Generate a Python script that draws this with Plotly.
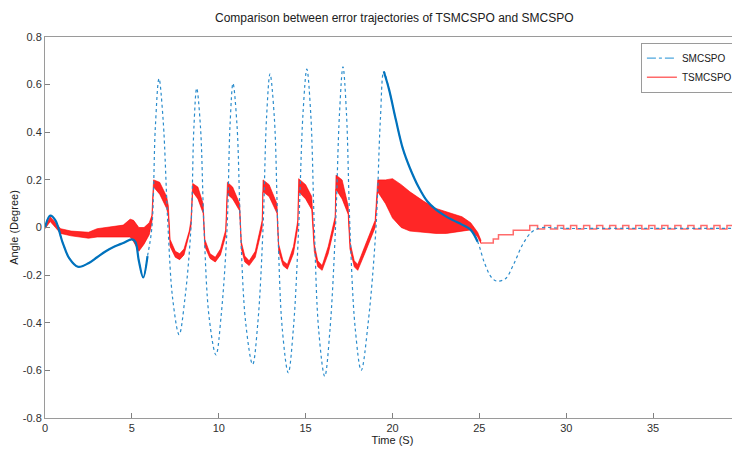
import plotly.graph_objects as go

# ---------------- data ----------------
# SMCSPO error trajectory (key points)
smc_t = [0, 0.3, 0.6, 1.0, 1.4, 1.9, 2.5, 3.0, 3.5, 4.0, 4.5, 5.0, 5.2, 5.4, 5.65, 5.9,
         6.15, 6.35, 6.56, 6.8, 7.08, 7.35, 7.72, 8.05, 8.4, 8.57, 8.73, 8.95, 9.15, 9.45,
         9.84, 10.15, 10.48, 10.65, 10.82, 11.05, 11.25, 11.55, 11.95, 12.25, 12.55, 12.75,
         12.95, 13.2, 13.4, 13.65, 14.0, 14.3, 14.6, 14.85, 15.07, 15.3, 15.5, 15.75, 16.1,
         16.4, 16.72, 16.95, 17.15, 17.35, 17.55, 17.85, 18.2, 18.6, 19.05, 19.3, 19.5, 19.8,
         20.2, 20.6, 21.0, 21.5, 22.0, 22.5, 23.0, 23.5, 24.0, 24.5, 24.9, 25.3, 25.7, 26.0,
         26.5, 27.0, 27.5, 28.0, 28.5, 30.0, 32.0, 34.0, 36.0, 38.0, 40.0]
smc_v = [0.0, 0.05, 0.03, -0.06, -0.13, -0.165, -0.15, -0.125, -0.1, -0.08, -0.065, -0.05,
         -0.06, -0.14, -0.21, -0.12,
         0.0, 0.42, 0.625, 0.45, 0.0, -0.3, -0.45, -0.3, 0.0, 0.42, 0.585, 0.42, 0.0, -0.38,
         -0.535, -0.36, 0.0, 0.43, 0.605, 0.43, 0.0, -0.4, -0.575, -0.4, 0.0, 0.46,
         0.645, 0.46, 0.0, -0.42, -0.61, -0.42, 0.0, 0.48, 0.665, 0.47, 0.0, -0.43, -0.625,
         -0.43, 0.0, 0.48, 0.675, 0.48, 0.0, -0.42, -0.6, -0.4, 0.0, 0.45, 0.655, 0.58,
         0.45, 0.33, 0.25, 0.17, 0.11, 0.075, 0.05, 0.03, 0.012, -0.01, -0.06, -0.15, -0.21, -0.225,
         -0.215, -0.15, -0.07, -0.02, -0.002, -0.004, -0.004, -0.004, -0.004, -0.004, -0.004]

# TSMCSPO error trajectory: chattering band (upper / lower envelope)
tsm_t = [0, 0.3, 0.6, 0.9, 1.5, 2.5, 3.0, 3.5, 4.0, 4.5, 4.9, 5.1, 5.4, 5.7, 6.0, 6.15,
         6.25, 6.6, 7.0, 7.1, 7.2, 7.5, 7.75, 8.0, 8.3, 8.4,
         8.5, 8.8, 9.1, 9.2, 9.5, 9.8, 10.1, 10.4,
         10.5, 10.8, 11.2, 11.3, 11.5, 11.75, 12.1, 12.5,
         12.55, 12.9, 13.35, 13.45, 13.7, 13.95, 14.3, 14.55,
         14.6, 15.0, 15.35, 15.5, 15.7, 15.95, 16.3, 16.7,
         16.75, 17.1, 17.45, 17.55, 17.8, 18.0, 18.4, 19.0,
         19.15, 19.6, 20.0, 20.5, 21.0, 21.8, 22.5, 23.1, 24.0, 24.5, 24.9, 25.1]
tsm_hi = [0.005, 0.045, 0.02, -0.005, -0.015, -0.02, -0.005, 0.0, 0.005, 0.01, 0.035, 0.03, 0.0, 0.0, 0.02, 0.05,
          0.2, 0.19, 0.13, 0.09, -0.05, -0.1, -0.11, -0.09, -0.015, 0.03,
          0.185, 0.17, 0.1, -0.05, -0.11, -0.125, -0.09, -0.01,
          0.19, 0.17, 0.1, -0.06, -0.12, -0.14, -0.1, 0.03,
          0.2, 0.18, 0.1, -0.07, -0.14, -0.155, -0.08, 0.03,
          0.205, 0.18, 0.13, -0.07, -0.14, -0.16, -0.08, 0.045,
          0.22, 0.2, 0.09, -0.06, -0.14, -0.155, -0.08, 0.03,
          0.2, 0.2, 0.205, 0.18, 0.15, 0.11, 0.08, 0.065, 0.045, 0.02, -0.02, -0.055]
tsm_lo = [-0.005, 0.025, 0.0, -0.025, -0.035, -0.045, -0.04, -0.04, -0.04, -0.04, -0.04, -0.06, -0.1, -0.07, -0.03, 0.02,
          0.17, 0.14, 0.08, 0.05, -0.08, -0.125, -0.135, -0.115, -0.035, 0.0,
          0.15, 0.12, 0.06, -0.08, -0.13, -0.145, -0.115, -0.035,
          0.14, 0.12, 0.07, -0.09, -0.145, -0.16, -0.125, 0.0,
          0.15, 0.13, 0.06, -0.1, -0.16, -0.175, -0.11, 0.0,
          0.15, 0.12, 0.075, -0.1, -0.165, -0.18, -0.11, 0.015,
          0.16, 0.12, 0.055, -0.09, -0.165, -0.18, -0.11, 0.0,
          0.15, 0.1, 0.04, 0.0, -0.015, -0.02, -0.025, -0.025, -0.015, -0.01, -0.04, -0.068]

# TSMCSPO after convergence (quantised steps)
step_t = [25.1, 25.8, 26.1, 26.95, 27.9, 28.35, 28.75, 29.1, 29.5, 29.85, 30.25, 30.6, 31.0,
          31.35, 31.75, 32.1, 32.5, 32.85, 33.25, 33.6, 34.0, 34.35, 34.75, 35.1, 35.5,
          35.85, 36.25, 36.6, 37.0, 37.35, 37.75, 38.1, 38.5, 38.85, 39.25, 39.6, 40.0]
step_v = [-0.065, -0.048, -0.03, -0.012, 0.008, -0.006, 0.008, -0.006, 0.008, -0.006, 0.008,
          -0.006, 0.008, -0.006, 0.008, -0.006, 0.008, -0.006, 0.008, -0.006, 0.008, -0.006,
          0.008, -0.006, 0.008, -0.006, 0.008, -0.006, 0.008, -0.006, 0.008, -0.006, 0.008,
          -0.006, 0.008, -0.006, 0.008]

x_ticks = [0, 5, 10, 15, 20, 25, 30, 35, 40]
x_labels = ["0", "5", "10", "15", "20", "25", "30", "35", "40"]
y_ticks = [-0.8, -0.6, -0.4, -0.2, 0, 0.2, 0.4, 0.6, 0.8]
y_labels = ["-0.8", "-0.6", "-0.4", "-0.2", "0", "0.2", "0.4", "0.6", "0.8"]

series_names = ["SMCSPO", "TSMCSPO"]

# ---------------- figure ----------------
BLUE = "#0072BD"
FONT = "Liberation Sans Narrow, Arial Narrow, Liberation Sans, Arial, sans-serif"

fig = go.Figure()

# red chattering band
fig.add_trace(go.Scatter(x=tsm_t, y=tsm_lo, mode="lines",
                         line=dict(color="rgba(255,0,0,0.6)", width=1),
                         showlegend=False, hoverinfo="skip"))
fig.add_trace(go.Scatter(x=tsm_t, y=tsm_hi, mode="lines", fill="tonexty",
                         fillcolor="rgba(255,0,0,0.85)",
                         line=dict(color="rgba(255,0,0,0.6)", width=1),
                         showlegend=False, hoverinfo="skip"))
# red quantised steps
fig.add_trace(go.Scatter(x=step_t, y=step_v, mode="lines", line_shape="hv",
                         line=dict(color="rgba(255,70,70,0.8)", width=1.5),
                         showlegend=False, hoverinfo="skip"))

# blue dotted trajectory
fig.add_trace(go.Scatter(x=smc_t, y=smc_v, mode="lines", line_shape="spline",
                         line=dict(color="#2a8ccc", width=1.2, dash="dot"),
                         showlegend=False, hoverinfo="skip"))
# dense (slowly varying) parts of the blue trajectory look solid
seg1 = [i for i, t in enumerate(smc_t) if t <= 5.9]
seg2 = [i for i, t in enumerate(smc_t) if 19.5 <= t <= 24.9]
for seg in (seg1, seg2):
    fig.add_trace(go.Scatter(x=[smc_t[i] for i in seg], y=[smc_v[i] for i in seg],
                             mode="lines", line_shape="spline",
                             line=dict(color=BLUE, width=2.2),
                             showlegend=False, hoverinfo="skip"))

# legend entries
fig.add_trace(go.Scatter(x=[None], y=[None], mode="lines", name=series_names[0],
                         line=dict(color="#4DA6DD", width=1.2, dash="dashdot")))
fig.add_trace(go.Scatter(x=[None], y=[None], mode="lines", name=series_names[1],
                         line=dict(color="#FF6A6A", width=1.6)))

axis_common = dict(showgrid=False, zeroline=False, ticks="inside", ticklen=5,
                   tickcolor="#808080", showline=True, linecolor="#9a9a9a",
                   linewidth=1, mirror=True, automargin=False,
                   tickfont=dict(family=FONT, size=11, color="#303030"))

# the page body adds an 8px offset, margins compensate for it
fig.update_layout(
    width=740, height=455,
    margin=dict(l=37, r=8, t=29, b=45, autoexpand=False),
    paper_bgcolor="white", plot_bgcolor="white",
    title=dict(text="Comparison between error trajectories of TSMCSPO and SMCSPO",
               x=0.522, xanchor="center", y=0.978, yanchor="middle",
               font=dict(family=FONT, size=12, color="#202020")),
    xaxis=dict(range=[0, 40], tickvals=x_ticks, ticktext=x_labels,
               title=dict(text="Time (S)", standoff=2,
                          font=dict(family=FONT, size=11, color="#202020")),
               **axis_common),
    yaxis=dict(range=[-0.8, 0.8], tickvals=y_ticks, ticktext=y_labels,
               title=dict(text="Angle (Degree)", standoff=6,
                          font=dict(family=FONT, size=11, color="#202020")),
               **axis_common),
    legend=dict(x=0.997, xanchor="right", y=0.985, yanchor="top",
                traceorder="normal",
                bordercolor="#9a9a9a", borderwidth=1, bgcolor="white",
                font=dict(family=FONT, size=10, color="#202020"),
                tracegroupgap=0, itemwidth=30),
    showlegend=True,
)

fig.write_html("out.html")
